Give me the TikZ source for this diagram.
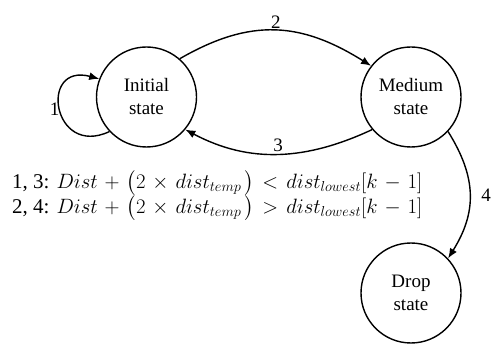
\documentclass[tikz,border=0pt]{standalone}
\usepackage{fontspec}
\setmainfont{Liberation Serif}
\usepackage{amsmath}
\usetikzlibrary{arrows.meta,positioning}
\definecolor{fsmInk}{HTML}{000000}
\tikzset{
  statenode/.style={circle, draw=fsmInk, line width=1.4pt, minimum size=100pt, inner sep=0pt,
                    align=center, font=\fontsize{19}{23}\selectfont, text=fsmInk},
  tarr/.style={-{Latex[length=10pt,width=8pt]}, line width=1.4pt, draw=fsmInk},
  tlabel/.style={font=\fontsize{19}{22}\selectfont, text=fsmInk, inner sep=2pt},
}
\medmuskip=6mu plus 2mu minus 2mu
\thickmuskip=7mu plus 3mu
\begin{document}
\begin{tikzpicture}[x=1pt, y=1pt]
    \useasboundingbox (0,0) rectangle (501,343);
    \node[statenode] (init) at (146.5,246) {Initial\\state};
    \node[statenode] (medium) at (411,246) {Medium\\state};
    \node[statenode] (drop) at (411,50) {Drop\\state};
    % transitions
    \draw[tarr] (init.223) to[out=205, in=165, looseness=3] node[tlabel, left, inner sep=0pt]{1} (init.159);
    \draw[tarr] (init.49) to[out=30, in=148, looseness=1.1] node[tlabel, above, inner sep=1pt]{2} (medium.142);
    \draw[tarr] (medium.220) to[out=205, in=-28, looseness=1] node[tlabel, above]{3} (init.-40);
    \draw[tarr] (medium.-43) to[out=-58, in=58, looseness=1.1] node[tlabel, right=9pt]{4} (drop.43);
    % conditions
    \node[tlabel, align=left, anchor=west, font=\fontsize{21}{25}\selectfont] (cond) at (10,147)
      {1, 3: $Dist+\bigl(2\times dist_{temp}\,\bigr)<dist_{lowest}[k-1]$\\
       2, 4: $Dist+\bigl(2\times dist_{temp}\,\bigr)>dist_{lowest}[k-1]$};
\end{tikzpicture}
\end{document}
